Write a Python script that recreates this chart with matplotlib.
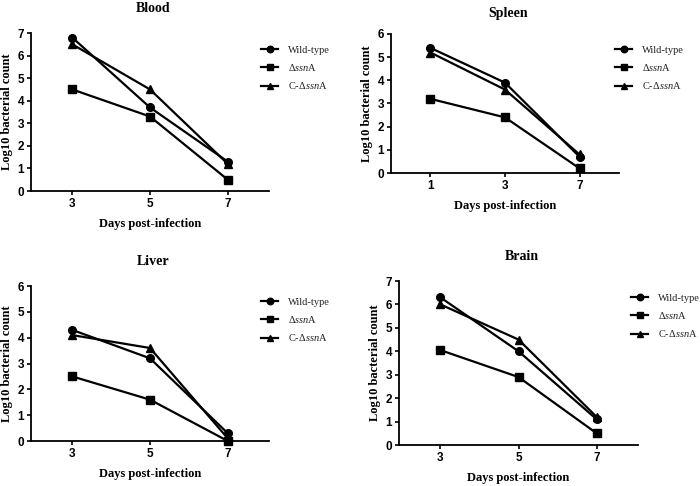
import matplotlib.pyplot as plt
import numpy as np

plt.rcParams['mathtext.fontset'] = 'custom'
plt.rcParams['mathtext.rm'] = 'Liberation Serif'
plt.rcParams['mathtext.it'] = 'Liberation Serif:italic'
plt.rcParams['mathtext.bf'] = 'Liberation Serif:bold'

# Datos por organo (log10 recuento bacteriano)
series_labels = ['Wild-type', r'$\Delta\it{ssn}\rm{A}$', r'C-$\Delta\it{ssn}\rm{A}$']
series_markers = ['o', 's', '^']

blood_days = ['3', '5', '7']
blood_wt = [6.8, 3.7, 1.3]
blood_ssna = [4.5, 3.3, 0.5]
blood_comp = [6.5, 4.5, 1.2]

spleen_days = ['1', '3', '7']
spleen_wt = [5.4, 3.9, 0.7]
spleen_ssna = [3.2, 2.4, 0.2]
spleen_comp = [5.2, 3.6, 0.8]

liver_days = ['3', '5', '7']
liver_wt = [4.3, 3.2, 0.3]
liver_ssna = [2.5, 1.6, 0.0]
liver_comp = [4.1, 3.6, 0.1]

brain_days = ['3', '5', '7']
brain_wt = [6.3, 4.0, 1.1]
brain_ssna = [4.05, 2.9, 0.5]
brain_comp = [6.0, 4.5, 1.2]

W, H = 700, 486


def px_axes(fig, left, right, top, bottom):
    return fig.add_axes([left / W, (H - bottom) / H, (right - left) / W, (bottom - top) / H])


def panel(fig, rect, title, days, values, ymax, leg_xy, title_y):
    ax = px_axes(fig, *rect)
    x = np.arange(len(days))
    for vals, mk, lab in zip(values, series_markers, series_labels):
        ax.plot(x, vals, color='black', lw=1.6, marker=mk, ms=5.5, label=lab, clip_on=False)
    ax.set_xlim(-0.53, len(days) - 1 + 0.53)
    ax.set_ylim(0, ymax)
    ax.set_xticks(x)
    ax.set_xticklabels(days)
    ax.set_yticks(np.arange(0, ymax + 1))
    for s in ['top', 'right']:
        ax.spines[s].set_visible(False)
    for s in ['left', 'bottom']:
        ax.spines[s].set_linewidth(1.3)
    ax.tick_params(direction='out', length=3, width=1.2, labelsize=8.5, pad=2)
    for t in ax.get_xticklabels() + ax.get_yticklabels():
        t.set_fontfamily('Liberation Sans')
        t.set_fontweight('bold')
    ax.set_ylabel('Log10 bacterial count', family='Liberation Serif', weight='bold', fontsize=9, labelpad=3)
    ax.set_xlabel('Days post-infection', family='Liberation Serif', weight='bold', fontsize=9, labelpad=6)
    cx = (rect[0] + rect[1]) / 2
    fig.text(cx / W + 0.005, 1 - title_y / H, title, family='Liberation Serif', weight='bold',
             fontsize=10, ha='center', va='center')
    leg = ax.legend(loc='upper left', bbox_to_anchor=(leg_xy[0] / W, 1 - leg_xy[1] / H),
                    bbox_transform=fig.transFigure, frameon=False, handlelength=1.6,
                    handletextpad=1.0, labelspacing=0.7, markerscale=0.85,
                    prop={'family': 'Liberation Serif', 'size': 7.5})
    for t in leg.get_texts():
        t.set_color('#222222')
    return ax


fig = plt.figure(figsize=(7, 4.86), dpi=100)

panel(fig, (31, 269, 33, 191), 'Blood', blood_days,
      [blood_wt, blood_ssna, blood_comp], 7, (252, 36), 9)
panel(fig, (391, 619, 34, 173), 'Spleen', spleen_days,
      [spleen_wt, spleen_ssna, spleen_comp], 6, (606, 36), 13)
panel(fig, (31, 269, 286, 441), 'Liver', liver_days,
      [liver_wt, liver_ssna, liver_comp], 6, (252, 288), 261)
panel(fig, (399, 638, 281, 445), 'Brain', brain_days,
      [brain_wt, brain_ssna, brain_comp], 7, (622, 284), 256)

plt.savefig('out.png', dpi=100)
